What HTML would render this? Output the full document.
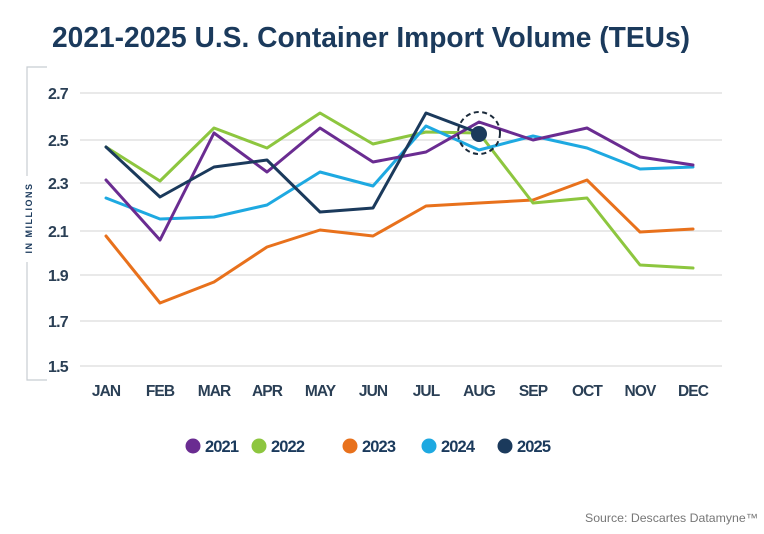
<!DOCTYPE html>
<html><head><meta charset="utf-8"><style>
html,body{margin:0;padding:0;background:#fff;}
svg{display:block;}
text{font-family:"Liberation Sans",sans-serif;}
</style></head><body>
<svg width="764" height="534" viewBox="0 0 764 534" xmlns="http://www.w3.org/2000/svg">
<rect width="764" height="534" fill="#fff"/>
<text x="52" y="47" font-size="29" font-weight="bold" fill="#1b3a5c" textLength="638" lengthAdjust="spacingAndGlyphs">2021-2025 U.S. Container Import Volume (TEUs)</text>
<g stroke="#c8cdd2" stroke-width="1.2" fill="none">
<polyline points="47,67 27,67 27,176"/>
<polyline points="27,262 27,380 47,380"/>
</g>
<text transform="translate(32,218) rotate(-90)" text-anchor="middle" font-size="9" font-weight="bold" fill="#1b3a5c" letter-spacing="1.5">IN MILLIONS</text>
<g stroke="#dcdcdc" stroke-width="1.2">
<line x1="80" y1="93" x2="722" y2="93"/>
<line x1="80" y1="140" x2="722" y2="140"/>
<line x1="80" y1="183" x2="722" y2="183"/>
<line x1="80" y1="231" x2="722" y2="231"/>
<line x1="80" y1="275" x2="722" y2="275"/>
<line x1="80" y1="321" x2="722" y2="321"/>
<line x1="80" y1="366" x2="722" y2="366"/>
</g>
<g font-size="16" font-weight="bold" fill="#2a3f55" letter-spacing="-0.8">
<text x="48" y="99">2.7</text>
<text x="48" y="146">2.5</text>
<text x="48" y="189">2.3</text>
<text x="48" y="237">2.1</text>
<text x="48" y="281">1.9</text>
<text x="48" y="327">1.7</text>
<text x="48" y="372">1.5</text>
</g>
<g font-size="15.5" font-weight="bold" fill="#2a3f55" text-anchor="middle" letter-spacing="-0.9">
<text x="106" y="396">JAN</text><text x="160" y="396">FEB</text><text x="214" y="396">MAR</text>
<text x="267" y="396">APR</text><text x="320" y="396">MAY</text><text x="373" y="396">JUN</text>
<text x="426" y="396">JUL</text><text x="479" y="396">AUG</text><text x="533" y="396">SEP</text>
<text x="587" y="396">OCT</text><text x="640" y="396">NOV</text><text x="693" y="396">DEC</text>
</g>
<g fill="none" stroke-width="3" stroke-linejoin="round" stroke-linecap="round">
<polyline stroke="#e8711c" points="106,236 160,303 214,282 267,247 320,230 373,236 426,206 479,203 533,200 587,180 640,232 693,229"/>
<polyline stroke="#8dc63f" points="106,147 160,181 214,128 267,148 320,113 373,144 426,132 479,133 533,203 587,198 640,265 693,268"/>
<polyline stroke="#1ea9e1" points="106,198 160,219 214,217 267,205 320,172 373,186 426,126 479,150 533,136 587,148 640,169 693,167"/>
<polyline stroke="#6a2c91" points="106,180 160,240 214,133 267,172 320,128 373,162 426,152 479,122 533,140 587,128 640,157 693,165"/>
<polyline stroke="#1b3a5c" points="106,147 160,197 214,167 267,160 320,212 373,208 426,113 479,133"/>
</g>
<circle cx="479" cy="134" r="8" fill="#1b3a5c"/>
<circle cx="479" cy="133" r="21" fill="none" stroke="#1b2a3a" stroke-width="2" stroke-dasharray="5,3.5"/>
<g font-size="16.5" font-weight="bold" fill="#1b3a5c" letter-spacing="-0.9">
<circle cx="193" cy="446" r="7.5" fill="#6a2c91"/><text x="205" y="452">2021</text>
<circle cx="259" cy="446" r="7.5" fill="#8dc63f"/><text x="271" y="452">2022</text>
<circle cx="350" cy="446" r="7.5" fill="#e8711c"/><text x="362" y="452">2023</text>
<circle cx="429" cy="446" r="7.5" fill="#1ea9e1"/><text x="441" y="452">2024</text>
<circle cx="505" cy="446" r="7.5" fill="#1b3a5c"/><text x="517" y="452">2025</text>
</g>
<text x="585" y="522" font-size="12" fill="#777" textLength="173" lengthAdjust="spacingAndGlyphs">Source: Descartes Datamyne™</text>
</svg>
</body></html>
